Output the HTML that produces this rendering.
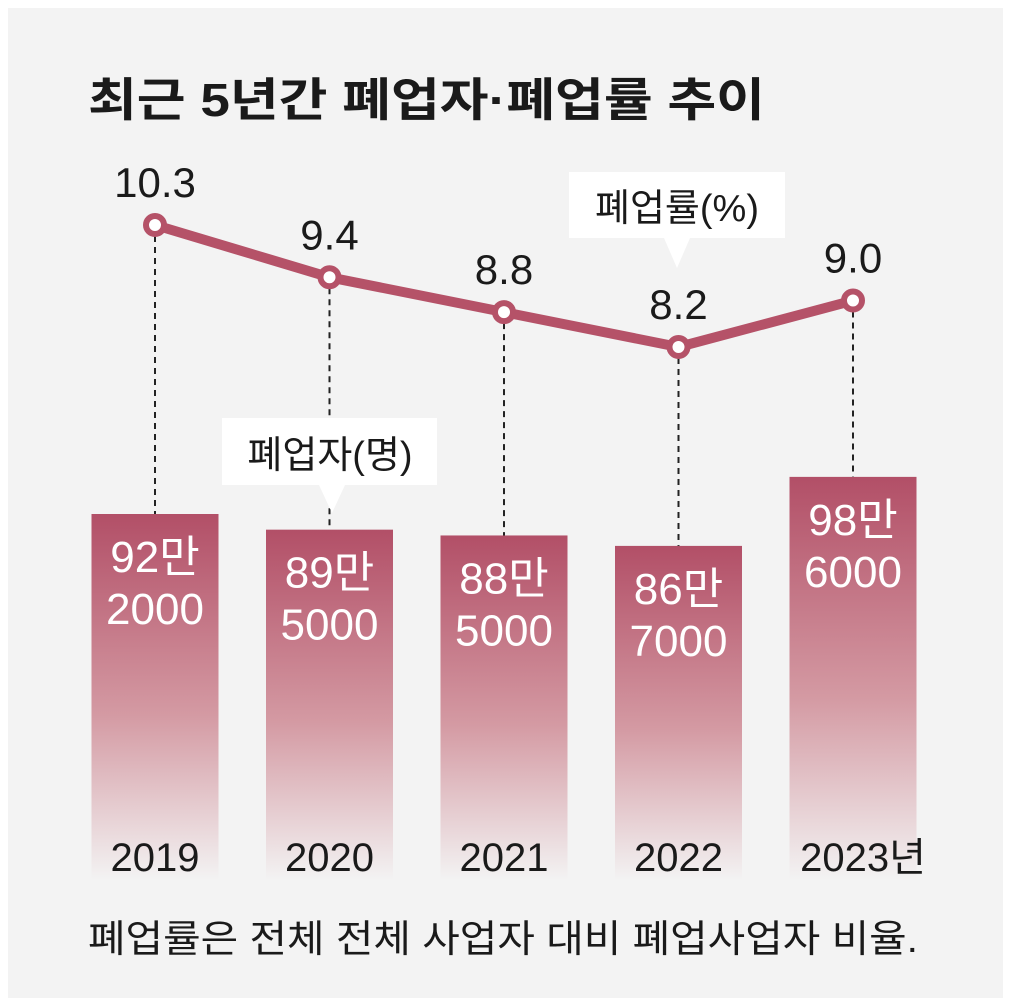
<!DOCTYPE html>
<html><head><meta charset="utf-8"><style>
html,body{margin:0;padding:0;background:#fff;}
svg{display:block;font-family:"Liberation Sans","Noto Sans CJK KR",sans-serif;}
</style></head><body>
<svg id="chart" width="1010" height="1003" viewBox="0 0 1010 1003">
<defs>
<linearGradient id="barGrad" x1="0" y1="0" x2="0" y2="1">
<stop offset="0" stop-color="#b24f67"/>
<stop offset="0.55" stop-color="#d49aa3"/>
<stop offset="1" stop-color="#f3f3f3"/>
</linearGradient>
</defs>
<rect x="8" y="8" width="995" height="990" fill="#f3f3f3"/>
<text x="88" y="116" font-size="46" font-weight="bold" fill="#1a1a1a" textLength="677" lengthAdjust="spacingAndGlyphs">최근 5년간 폐업자·폐업률 추이</text>
<g id="bars"></g>
<g id="line"></g>
<g>
<path d="M569 172 H785 V238 H690 L677 268 L664 238 H569 Z" fill="#fff"/>
<text x="677" y="221" font-size="38" text-anchor="middle" fill="#1a1a1a">폐업률(%)</text>
</g>
<g>
<path d="M222 418 H437 V485 H345 L332 513 L319 485 H222 Z" fill="#fff"/>
<text x="330" y="468" font-size="38" text-anchor="middle" fill="#1a1a1a">폐업자(명)</text>
</g>
<text x="88" y="952" font-size="38" fill="#1a1a1a" textLength="830" lengthAdjust="spacingAndGlyphs">폐업률은 전체 전체 사업자 대비 폐업사업자 비율.</text>
</svg>
<script>
const years = ["2019","2020","2021","2022","2023년"];
const countMan = [92.2, 89.5, 88.5, 86.7, 98.6];
const countLabel1 = ["92만","89만","88만","86만","98만"];
const countLabel2 = ["2000","5000","5000","7000","6000"];
const rates = [10.3, 9.4, 8.8, 8.2, 9.0];
const rateLabels = ["10.3","9.4","8.8","8.2","9.0"];

const NS = "http://www.w3.org/2000/svg";
function xC(i){ return 155 + i*174.5; }
function yRate(v){ return 225 + (10.3 - v)*58.1; }
function yBar(v){ return 514 - (v - 92.2)*5.8; }
const barBottom = 880, barW = 127;
function mk(tag, attrs, parent){ const e=document.createElementNS(NS,tag); for(const k in attrs) e.setAttribute(k,attrs[k]); parent.appendChild(e); return e; }

const gb = document.getElementById('bars');
const gl = document.getElementById('line');
years.forEach((y,i)=>{
  const cx = xC(i), top = yBar(countMan[i]);
  const r = mk('rect',{x:cx-barW/2,y:top,width:barW,height:barBottom-top,fill:'url(#barGrad)'},gb);
  
  
  const t1 = mk('text',{x:cx,y:top+58,'font-size':44,'text-anchor':'middle',fill:'#fff'},gb);
  t1.textContent = countLabel1[i];
  
  
  const t2 = mk('text',{x:cx,y:top+110,'font-size':44,'text-anchor':'middle',fill:'#fff'},gb);
  t2.textContent = countLabel2[i];
  
  
  const yl = mk('text',{x:cx + (i===4? 10:0),y:871,'font-size':40,'text-anchor':'middle',fill:'#1a1a1a'},gb);
  yl.textContent = y;
  
  
  const d = mk('line',{x1:cx,y1:yRate(rates[i]),x2:cx,y2:top,stroke:'#222','stroke-width':2,'stroke-dasharray':'6,5'},gl);
  
  
});
const pts = rates.map((v,i)=>xC(i)+','+yRate(v)).join(' ');
const pl = mk('polyline',{points:pts,fill:'none',stroke:'#b55268','stroke-width':10,'stroke-linejoin':'round'},gl);


rates.forEach((v,i)=>{
  const c = mk('circle',{cx:xC(i),cy:yRate(v),r:9,fill:'#fff',stroke:'#b55268','stroke-width':6},gl);
  
  
  const t = mk('text',{x:xC(i),y:yRate(v)-28,'font-size':42,'text-anchor':'middle',fill:'#1a1a1a'},gl);
  t.textContent = rateLabels[i];
  
  
});
</script>
</body></html>
